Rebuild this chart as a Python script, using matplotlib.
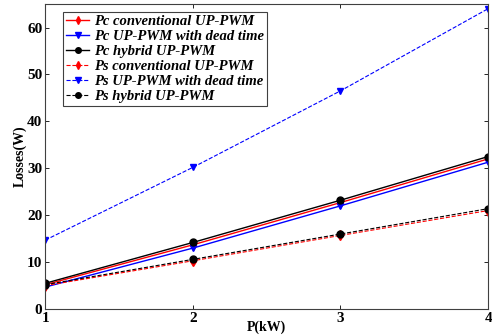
import matplotlib
matplotlib.use('Agg')
import matplotlib.pyplot as plt

# power levels (kW)
p_kw = [1, 2, 3, 4]

# losses (W)
pc_conv = [5.2, 13.7, 22.7, 32.0]
pc_dead = [4.7, 13.0, 22.0, 31.3]
pc_hybrid = [5.5, 14.2, 23.2, 32.5]
ps_conv = [5.0, 10.3, 15.7, 21.0]
ps_dead = [14.7, 30.2, 46.5, 64.0]
ps_hybrid = [5.2, 10.6, 16.0, 21.4]

plt.rcParams['font.family'] = ['Liberation Serif', 'DejaVu Serif']

fig = plt.figure(figsize=(4.92, 3.36), dpi=100)
ax = fig.add_axes([0.092, 0.080, 0.900, 0.908])

ax.plot(p_kw, pc_conv, '-', color='red', marker='d', ms=5, lw=1, label='Pc conventional UP-PWM')
ax.plot(p_kw, pc_dead, '-', color='blue', marker='v', ms=5, lw=1, label='Pc UP-PWM with dead time')
ax.plot(p_kw, pc_hybrid, '-', color='black', marker='o', ms=5, lw=1, label='Pc hybrid UP-PWM')
ax.plot(p_kw, ps_conv, '--', color='red', marker='d', ms=5, lw=0.8, label='Ps conventional UP-PWM')
ax.plot(p_kw, ps_dead, '--', color='blue', marker='v', ms=5, lw=0.8, label='Ps UP-PWM with dead time')
ax.plot(p_kw, ps_hybrid, '--', color='black', marker='o', ms=5, lw=0.8, label='Ps hybrid UP-PWM')

ax.set_xlim(1, 4)
ax.set_ylim(0, 65)
ax.set_xticks([1, 2, 3, 4])
ax.set_yticks([0, 10, 20, 30, 40, 50, 60])
ax.tick_params(direction='in', top=True, right=True, length=3, width=0.6, labelsize=11, pad=2)
for lab in ax.get_xticklabels() + ax.get_yticklabels():
    lab.set_fontweight('bold')
for s in ax.spines.values():
    s.set_linewidth(0.8)
    s.set_color('#404040')

ax.set_xlabel('P(kW)', fontsize=10, fontweight='bold', labelpad=-3)
ax.set_ylabel('Losses(W)', fontsize=10, fontweight='bold', labelpad=0)

leg = ax.legend(loc='upper left', bbox_to_anchor=(0.04, 0.974),
                prop={'style': 'italic', 'weight': 'bold', 'size': 10.5},
                handlelength=1.6, handletextpad=0.3, labelspacing=0.12,
                borderpad=0.2, fancybox=False, framealpha=1, borderaxespad=0,
                markerscale=0.8)
leg.get_frame().set_edgecolor('#404040')
leg.get_frame().set_linewidth(0.8)

fig.savefig('out.png', dpi=100)
